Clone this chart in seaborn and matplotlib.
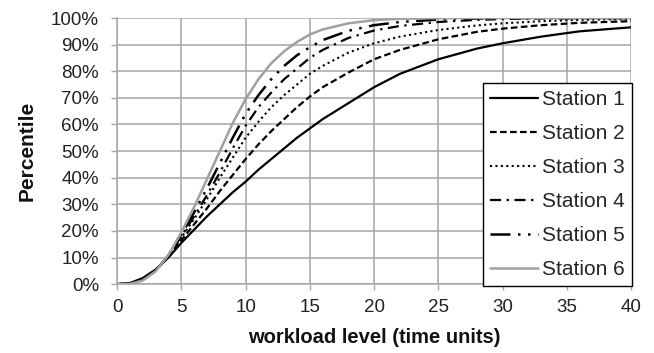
import pandas as pd
import matplotlib
matplotlib.use('Agg')
import matplotlib.pyplot as plt
import seaborn as sns
from matplotlib.ticker import PercentFormatter, MultipleLocator

# --- data (percentile, %) ---
workload = [0, 1, 2, 3, 4, 5, 6, 7, 8, 9, 10, 11, 12, 13, 14, 15, 16, 18, 20, 22, 25, 28, 30, 33, 36, 40]

station_1 = [0, 0.4, 2.3, 5.5, 10, 15.5, 20.5, 25.5, 30, 34.5, 38.5, 43, 47, 51, 55, 58.5, 62, 68, 74, 79, 84.5, 88.5, 90.5, 93, 95, 96.5]
station_2 = [0, 0.3, 2.0, 5.3, 10.5, 16.5, 22.5, 28.5, 35, 41, 47, 52.5, 57.5, 62, 66.5, 70.5, 74, 79.5, 84.5, 88, 92, 94.8, 96, 97.3, 98.2, 98.8]
station_3 = [0, 0.2, 1.8, 5.2, 10.5, 17.5, 24.5, 32, 40, 47.5, 55, 61, 66.5, 71, 75, 79, 82, 87, 90.5, 93, 95.5, 97.2, 98, 98.8, 99.3, 99.6]
station_4 = [0, 0.2, 1.7, 5.1, 10.5, 18, 25.5, 33.5, 42, 51, 59.5, 66.5, 72, 77, 81, 85, 88, 92.5, 95.3, 97, 98.5, 99.3, 99.6, 99.8, 99.9, 100]
station_5 = [0, 0.15, 1.6, 5.0, 10.8, 18.5, 27, 36, 45.5, 55, 64, 71, 77, 82, 86, 89, 91.7, 95.2, 97.3, 98.5, 99.4, 99.8, 99.9, 100, 100, 100]
station_6 = [0, 0.1, 1.4, 4.8, 11, 19.5, 29, 39.5, 50, 60.5, 69.5, 77, 83, 87.5, 91, 93.8, 95.7, 98, 99.2, 99.7, 99.95, 100, 100, 100, 100, 100]

station_names = ['Station 1', 'Station 2', 'Station 3', 'Station 4', 'Station 5', 'Station 6']
series = [station_1, station_2, station_3, station_4, station_5, station_6]

# line look per station (colour, dash pattern, width)
styles = {
    'Station 1': ('black', '-', 1.6),
    'Station 2': ('black', (0, (3, 1.5)), 1.6),
    'Station 3': ('black', (0, (1, 1.6)), 1.5),
    'Station 4': ('black', (0, (5, 2.5, 1, 2.5)), 1.6),
    'Station 5': ('black', (0, (8, 3, 1, 3, 1, 3)), 1.8),
    'Station 6': ('#a0a0a0', '-', 1.8),
}

rows = []
for name, vals in zip(station_names, series):
    for x, v in zip(workload, vals):
        rows.append({'workload': x, 'percentile': v, 'station': name})
df = pd.DataFrame(rows)

sns.set_theme(style='white')
plt.rcParams['font.family'] = ['Liberation Sans', 'DejaVu Sans']

fig = plt.figure(figsize=(6.54, 3.53), dpi=100)
ax = fig.add_axes([0.179, 0.195, 0.786, 0.754])

for name in station_names:
    color, ls, lw = styles[name]
    sns.lineplot(data=df[df['station'] == name], x='workload', y='percentile',
                 ax=ax, color=color, linestyle=ls, linewidth=lw, label=name)

ax.set_xlim(0, 40)
ax.set_ylim(0, 100)
ax.xaxis.set_major_locator(MultipleLocator(5))
ax.yaxis.set_major_locator(MultipleLocator(10))
ax.yaxis.set_major_formatter(PercentFormatter(100, decimals=0))

ax.grid(True, color='#a6a6a6', linewidth=1.1)
ax.set_axisbelow(True)
for side in ['top', 'right']:
    ax.spines[side].set_visible(False)
for side in ['left', 'bottom']:
    ax.spines[side].set_color('#a6a6a6')
    ax.spines[side].set_linewidth(1.1)
ax.tick_params(axis='both', direction='out', length=4, width=1, color='#a6a6a6',
               labelsize=13.5, labelcolor='#222222', bottom=True, left=True)
ax.tick_params(axis='x', pad=7)
ax.tick_params(axis='y', pad=9)

ax.set_xlabel('workload level (time units)', fontsize=14.5, fontweight='bold', color='#111111', labelpad=8)
ax.set_ylabel('Percentile', fontsize=15, fontweight='bold', color='#111111', labelpad=10)

leg = ax.legend(loc='lower right', bbox_to_anchor=(1.002, -0.008), fontsize=15,
                frameon=True, fancybox=False, edgecolor='black', framealpha=1,
                handlelength=2.3, handletextpad=0.2, labelspacing=0.72,
                borderpad=0.35, borderaxespad=0)
leg.get_frame().set_linewidth(1.0)

plt.savefig('out.png', dpi=100)
